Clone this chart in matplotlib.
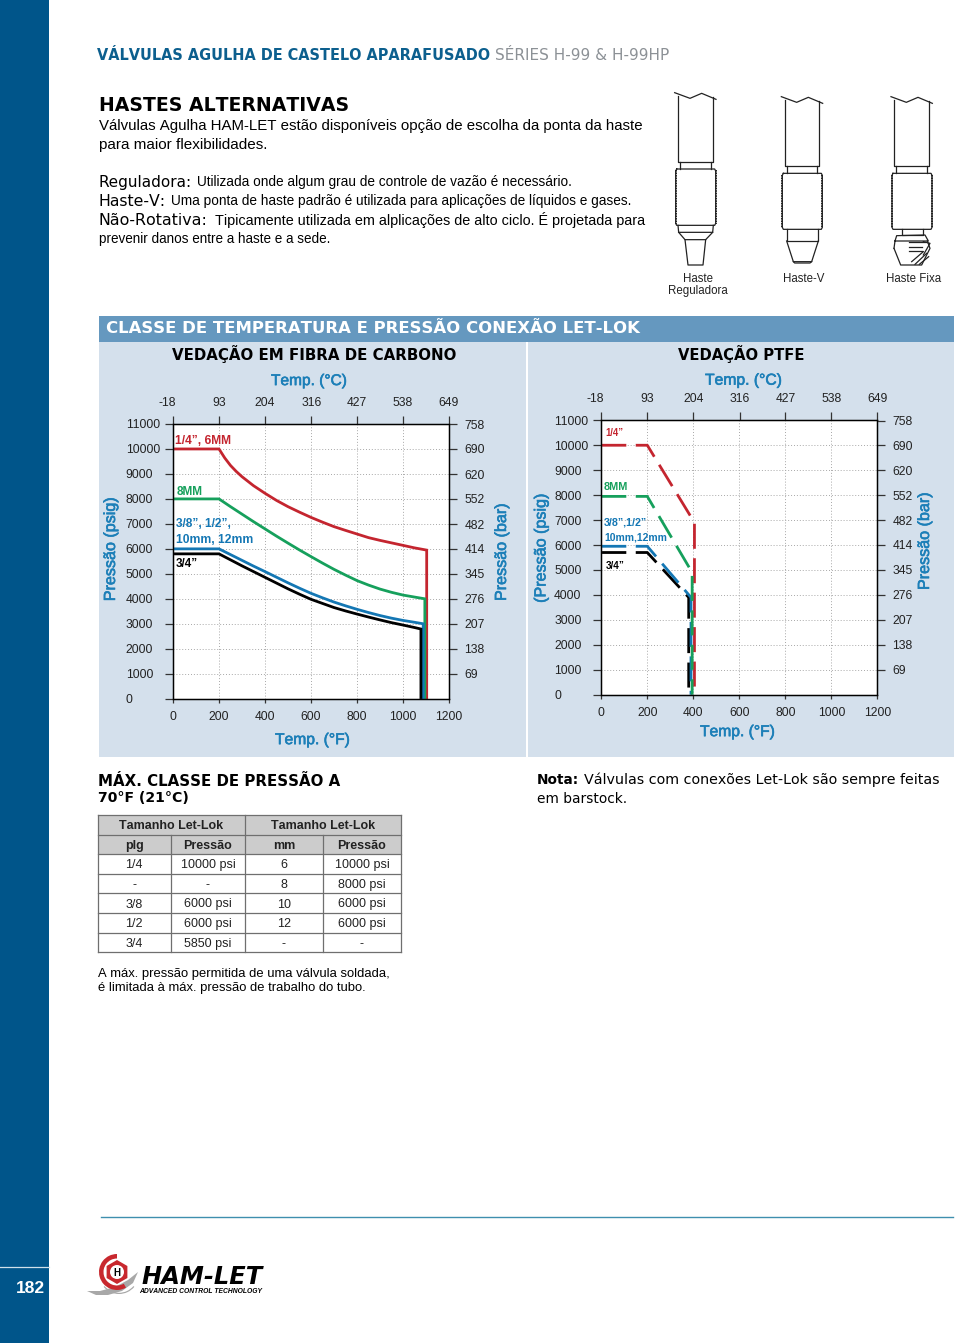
import matplotlib
matplotlib.use("Agg")
import matplotlib.pyplot as plt
import matplotlib.patheffects as pe
from matplotlib.patches import Rectangle, Circle, Polygon, Wedge, RegularPolygon
from matplotlib.transforms import ScaledTranslation

plt.rcParams["text.kerning_factor"] = 8

# ---------- data ----------
F_TICKS = [0, 200, 400, 600, 800, 1000, 1200]
C_TICKS = [-18, 93, 204, 316, 427, 538, 649]
C_LABELS = ["-18", "93", "204", "316", "427", "538", "649"]
PSI_TICKS = [0, 1000, 2000, 3000, 4000, 5000, 6000, 7000, 8000, 9000, 10000, 11000]
BAR_TICKS = [69, 138, 207, 276, 345, 414, 482, 552, 620, 690, 758]

carbon_red_f = [0, 200, 225, 250, 275, 300, 350, 400, 450, 500, 550, 600, 650, 700, 750, 800, 850, 900, 950, 1000, 1050, 1103, 1103]
carbon_red_p = [10000, 10000, 9640, 9340, 9100, 8890, 8530, 8225, 7940, 7690, 7470, 7260, 7070, 6890, 6740, 6595, 6450, 6340, 6240, 6140, 6040, 5950, 0]
carbon_green_f = [0, 200, 250, 300, 350, 400, 450, 500, 550, 600, 650, 700, 750, 800, 850, 900, 950, 1000, 1050, 1095, 1095]
carbon_green_p = [8000, 8000, 7690, 7390, 7090, 6800, 6510, 6230, 5955, 5690, 5430, 5180, 4950, 4730, 4550, 4390, 4260, 4150, 4070, 4000, 0]
carbon_blue_f = [0, 200, 250, 300, 350, 400, 450, 500, 550, 600, 650, 700, 750, 800, 850, 900, 950, 1000, 1050, 1088, 1088]
carbon_blue_p = [6000, 6000, 5770, 5540, 5310, 5090, 4865, 4640, 4425, 4220, 4040, 3870, 3720, 3580, 3450, 3330, 3225, 3135, 3060, 3000, 0]
carbon_black_f = [0, 200, 250, 300, 350, 400, 450, 500, 550, 600, 650, 700, 750, 800, 850, 900, 950, 1000, 1050, 1078, 1078]
carbon_black_p = [5800, 5800, 5560, 5320, 5090, 4860, 4630, 4400, 4185, 3980, 3815, 3650, 3515, 3390, 3270, 3155, 3045, 2950, 2850, 2790, 0]

ptfe_red_f = [0, 200, 405, 405]
ptfe_red_p = [10000, 10000, 6900, 0]
ptfe_green_f = [0, 200, 395, 395]
ptfe_green_p = [7950, 7950, 4900, 0]
ptfe_blue_f = [0, 200, 390, 390]
ptfe_blue_p = [5950, 5950, 3900, 0]
ptfe_black_f = [0, 200, 380, 380]
ptfe_black_p = [5700, 5700, 3900, 0]

table_rows = [
    ["1/4", "10000 psi", "6", "10000 psi"],
    ["-", "-", "8", "8000 psi"],
    ["3/8", "6000 psi", "10", "6000 psi"],
    ["1/2", "6000 psi", "12", "6000 psi"],
    ["3/4", "5850 psi", "-", "-"],
]
table_head = ["plg", "Pressão", "mm", "Pressão"]

# ---------- style ----------
W, H = 960, 1343
RED, GREEN, BLUE, BLACK = "#c4252f", "#16a05c", "#1477b4", "#000000"
AXBLUE = "#1c7fb8"
NAVY = "#00558a"
PANEL = "#d4e0ec"
SANS = "Liberation Sans"
WIDE = "DejaVu Sans"
MEDIUM = [pe.withStroke(linewidth=0.45, foreground=AXBLUE)]

fig = plt.figure(figsize=(W / 100, H / 100), dpi=100, facecolor="white")
page = fig.add_axes([0, 0, 1, 1], zorder=0)
page.set_xlim(0, W)
page.set_ylim(H, 0)
page.axis("off")
rend = fig.canvas.get_renderer()
PX = 100 / 72


def fit(x0, x1, y, s, color="black", weight="normal", family=SANS, size=10, **kw):
    """Text whose font size is chosen to span x0..x1, with caps centred on y."""
    t = page.text(x0, y, s, color=color, fontweight=weight, family=family,
                  fontsize=size, ha="left", va="baseline", **kw)
    w = t.get_window_extent(rend).width
    new = size * (x1 - x0) / w
    t.set_fontsize(new)
    t.set_y(y + 0.36 * new * PX)
    return t


def ctext(x, y, s, size=8.3, color="black", weight="normal", family=SANS, **kw):
    return page.text(x, y + 0.36 * size * PX, s, color=color, fontweight=weight, family=family,
                     fontsize=size, ha="center", va="baseline", **kw)


# ---------- page furniture ----------
page.add_patch(Rectangle((0, 0), 48.5, H, fc=NAVY, ec="none"))
page.plot([0, 48.5], [1267, 1267], color="#cfe0ea", lw=0.9)
ctext(30, 1287, "182", size=12.5, color="white", weight="bold")
page.plot([101, 953], [1217, 1217], color="#3f8fae", lw=1.0)

fit(97, 490, 55, "VÁLVULAS AGULHA DE CASTELO APARAFUSADO", color="#0c5f8e", weight="bold", family=WIDE)
fit(495, 667, 55, "SÉRIES H-99 & H-99HP", color="#8c9196", family=WIDE)
fit(99, 350, 104.5, "HASTES ALTERNATIVAS", weight="bold", family=WIDE)
fit(99, 645, 124.5, "Válvulas Agulha HAM-LET estão disponíveis opção de escolha da ponta da haste")
fit(99, 268, 143.5, "para maior flexibilidades.")
fit(99, 192, 181.5, "Reguladora:", family=WIDE)
fit(197, 572, 181.5, "Utilizada onde algum grau de controle de vazão é necessário.")
fit(99, 166, 200.5, "Haste-V:", family=WIDE)
fit(171, 632, 200.5, "Uma ponta de haste padrão é utilizada para aplicações de líquidos e gases.")
fit(99, 208, 219.5, "Não-Rotativa:", family=WIDE)
fit(215, 645, 219.5, "Tipicamente utilizada em alplicações de alto ciclo. É projetada para")
fit(99, 331, 238.5, "prevenir danos entre a haste e a sede.")
ctext(697.5, 277.5, "Haste", color="#222222")
ctext(697.5, 289.5, "Reguladora", color="#222222")
ctext(804, 277.5, "Haste-V", color="#222222")
ctext(914, 277.5, "Haste Fixa", color="#222222")

# ---------- panels ----------
page.add_patch(Rectangle((99, 316), 855, 26, fc="#6598bf", ec="none"))
page.add_patch(Rectangle((99, 342), 426.5, 415, fc=PANEL, ec="none"))
page.add_patch(Rectangle((528, 342), 426, 415, fc=PANEL, ec="none"))
fit(106, 641, 327, "CLASSE DE TEMPERATURA E PRESSÃO CONEXÃO LET-LOK", color="white", weight="bold", family=WIDE)
fit(172, 458, 354.5, "VEDAÇÃO EM FIBRA DE CARBONO", weight="bold", family=WIDE)
fit(678, 805, 354.5, "VEDAÇÃO PTFE", weight="bold", family=WIDE)


def chart(x0, x1, ytop, ybot, series, dashed):
    ax = fig.add_axes([x0 / W, 1 - ybot / H, (x1 - x0) / W, (ybot - ytop) / H], zorder=2)
    ax.set_xlim(0, 1200)
    ax.set_ylim(0, 11000)
    ax.set_xticks(F_TICKS)
    ax.set_yticks(PSI_TICKS)
    ax.grid(True, ls=(0, (1, 2)), color="#a8a8a8", lw=0.7)
    ax.set_axisbelow(True)
    ax.tick_params(axis="x", length=3, width=0.9, pad=6, labelsize=8.7, color="#333333", labelcolor="#222222")
    ax.tick_params(axis="y", length=6, width=0.9, pad=28, labelsize=8.7, color="#333333", labelcolor="#222222")
    for lab in ax.get_yticklabels():
        lab.set_ha("left")
    for lab in ax.get_xticklabels() + ax.get_yticklabels():
        lab.set_family(SANS)
    for f, p, c in series:
        if dashed:
            ax.plot(f, p, color=c, lw=2.0, dashes=(9, 3.4), solid_joinstyle="miter", clip_on=False)
        else:
            ax.plot(f, p, color=c, lw=2.0, solid_joinstyle="miter")
    for s in ax.spines.values():
        s.set_color("#333333")
        s.set_linewidth(1.0)

    top = ax.twiny()
    top.set_xlim((0 - 32) / 1.8, (1200 - 32) / 1.8)
    top.set_xticks(C_TICKS, C_LABELS)
    top.tick_params(axis="x", length=6, width=0.9, pad=5, labelsize=8.7, color="#333333", labelcolor="#222222")
    for lab in top.get_xticklabels():
        lab.set_family(SANS)
    first = top.get_xticklabels()[0]
    first.set_transform(first.get_transform() + ScaledTranslation(-6 / 100, 0, fig.dpi_scale_trans))

    right = ax.twinx()
    right.set_ylim(0, 11000 / 14.5)
    right.set_yticks(BAR_TICKS)
    right.tick_params(axis="y", length=6, width=0.9, pad=5, labelsize=8.7, color="#333333", labelcolor="#222222")
    for lab in right.get_yticklabels():
        lab.set_family(SANS)
    return ax


chart(173, 449, 424, 698.7,
      [(carbon_red_f, carbon_red_p, RED), (carbon_green_f, carbon_green_p, GREEN),
       (carbon_blue_f, carbon_blue_p, BLUE), (carbon_black_f, carbon_black_p, BLACK)], False)
chart(601.3, 877.3, 420.3, 694.7,
      [(ptfe_black_f, ptfe_black_p, BLACK), (ptfe_blue_f, ptfe_blue_p, BLUE),
       (ptfe_red_f, ptfe_red_p, RED), (ptfe_green_f, ptfe_green_p, GREEN)], True)

# axis titles
fit(271, 347, 379.5, "Temp. (°C)", color=AXBLUE, path_effects=MEDIUM)
fit(705, 782, 379, "Temp. (°C)", color=AXBLUE, path_effects=MEDIUM)
fit(275, 350, 738.5, "Temp. (°F)", color=AXBLUE, path_effects=MEDIUM)
fit(700, 775, 730.5, "Temp. (°F)", color=AXBLUE, path_effects=MEDIUM)


def rot(x, y, s):
    page.text(x, y, s, color=AXBLUE, fontsize=11.6, family=SANS, path_effects=MEDIUM,
              rotation=90, ha="center", va="center")


rot(110.5, 549, "Pressão (psig)")
rot(541, 548, "(Pressão (psig)")
rot(501.5, 552, "Pressão (bar)")
rot(924.5, 541, "Pressão (bar)")


# series labels (above the axes)
def lab(x0, x1, y, s, c):
    t = fit(x0, x1, y, s, color=c, weight="bold")
    t.remove()
    fig.add_artist(t)
    t.set_transform(page.transData)
    t.set_zorder(5)


lab(175, 231, 440, "1/4”, 6MM", RED)
lab(177, 203, 491, "8MM", GREEN)
lab(176, 231, 523, "3/8”, 1/2”,", BLUE)
lab(176, 253, 539, "10mm, 12mm", BLUE)
lab(176, 198, 563, "3/4”", BLACK)
lab(605, 623, 433, "1/4”", RED)
lab(604, 628, 486, "8MM", GREEN)
lab(604, 647, 522, "3/8”,1/2”", BLUE)
lab(604, 667, 537, "10mm,12mm", BLUE)
lab(606, 625, 565, "3/4”", BLACK)

# ---------- notes ----------
fit(98, 341, 781, "MÁX. CLASSE DE PRESSÃO A", weight="bold", family=WIDE)
fit(98, 189, 796.5, "70°F (21°C)", weight="bold", family=WIDE)
fit(537, 579, 779, "Nota:", weight="bold", family=WIDE)
fit(584, 941, 779, "Válvulas com conexões Let-Lok são sempre feitas", family=WIDE)
fit(537, 627, 798, "em barstock.", family=WIDE)
fit(98, 389, 972, "A máx. pressão permitida de uma válvula soldada,")
fit(98, 367, 986, "é limitada à máx. pressão de trabalho do tubo.")

# ---------- table ----------
col_x = [97.5, 171, 245, 323, 401]
row_y = [814.5, 834.5, 854, 873.5, 893, 913, 932.5, 952]
GRID = "#6f6f6f"
page.add_patch(Rectangle((col_x[0], row_y[0]), col_x[-1] - col_x[0], row_y[2] - row_y[0], fc="#cccccc", ec="none"))
for y in row_y:
    page.plot([col_x[0], col_x[-1]], [y, y], color=GRID, lw=0.9)
for i, x in enumerate(col_x):
    start = row_y[0] if i in (0, 2, 4) else row_y[1]
    page.plot([x, x], [start, row_y[-1]], color=GRID, lw=0.9)
ctext((col_x[0] + col_x[2]) / 2, (row_y[0] + row_y[1]) / 2, "Tamanho Let-Lok", size=9, weight="bold", color="#222222")
ctext((col_x[2] + col_x[4]) / 2, (row_y[0] + row_y[1]) / 2, "Tamanho Let-Lok", size=9, weight="bold", color="#222222")
for j, s in enumerate(table_head):
    ctext((col_x[j] + col_x[j + 1]) / 2, (row_y[1] + row_y[2]) / 2, s, size=9, weight="bold", color="#222222")
for i, row in enumerate(table_rows):
    for j, s in enumerate(row):
        ctext((col_x[j] + col_x[j + 1]) / 2, (row_y[i + 2] + row_y[i + 3]) / 2, s, size=9, color="#222222")


# ---------- stem illustrations (zoom-crop coordinates mapped to the page) ----------
def stem(paths, dx=0.0):
    for p in paths:
        xs = [660 + (a + dx) / 3 for a, _ in p]
        ys = [85 + b / 3 for _, b in p]
        page.plot(xs, ys, color="#222222", lw=0.9, solid_joinstyle="round")


def threads(dx, y0, y1):
    for x in (47 + dx, 167 + dx):
        page.plot([660 + x / 3] * 2, [85 + y0 / 3, 85 + y1 / 3], color="#222222", lw=1.4, ls=(0, (0.8, 0.5)))


def upper(dx, y0, shaft_bot, neck_bot, body_bot):
    return [
        [(44 + dx, 23 + y0), (90 + dx, 40 + y0), (125 + dx, 25 + y0), (168 + dx, 43 + y0)],
        [(54 + dx, 32 + y0), (54 + dx, shaft_bot), (158 + dx, shaft_bot), (158 + dx, 35 + y0)],
        [(60 + dx, shaft_bot), (60 + dx, neck_bot)],
        [(152 + dx, shaft_bot), (152 + dx, neck_bot)],
        [(50 + dx, neck_bot), (164 + dx, neck_bot), (167 + dx, neck_bot + 6), (167 + dx, body_bot - 6),
         (164 + dx, body_bot), (50 + dx, body_bot), (47 + dx, body_bot - 6), (47 + dx, neck_bot + 6), (50 + dx, neck_bot)],
    ]


stem(upper(0, 0, 230, 252, 421) + [
    [(54, 421), (56, 442), (158, 442), (160, 421)],
    [(56, 442), (75, 464), (137, 464), (158, 442)],
    [(75, 464), (84, 540), (129, 540), (137, 464)],
])
threads(0, 256, 417)
stem(upper(320, 12, 242, 265, 433) + [
    [(380, 433), (380, 468), (475, 468), (475, 433)],
    [(380, 468), (400, 530), (455, 530), (475, 468)],
    [(400, 530), (404, 534), (450, 534), (455, 530)],
])
threads(320, 269, 429)
stem(upper(649, 12, 242, 265, 433) + [
    [(725, 433), (725, 450), (790, 450), (790, 433)],
    [(705, 468), (710, 452), (795, 450), (805, 468), (705, 468)],
    [(702, 490), (722, 540), (785, 540), (810, 490), (802, 468)],
    [(702, 490), (705, 468)],
    [(748, 470), (795, 470)], [(748, 485), (785, 485)], [(748, 498), (785, 498)],
    [(755, 530), (790, 500)], [(765, 538), (800, 505)], [(778, 538), (806, 515)],
    [(790, 470), (810, 475), (790, 510)],
])
threads(649, 269, 429)

# ---------- logo ----------
page.add_patch(Polygon([(87, 1291), (100, 1291), (115, 1287), (128, 1280), (138, 1272), (133, 1283),
                        (122, 1291), (108, 1295), (96, 1295)], fc="#a8a8a8", ec="none"))
page.add_patch(Wedge((119, 1274), 20, 40, 140, width=1.2, fc="#a8a8a8", ec="none"))
page.add_patch(Wedge((117, 1272), 18, 60, 270, width=4.5, fc="#c8282e", ec="none"))
page.add_patch(RegularPolygon((117, 1272), 6, radius=12, fc="#c8282e", ec="none"))
page.add_patch(Circle((117, 1272), 7, fc="white", ec="none"))
ctext(117, 1272, "H", size=7, weight="bold")
fit(141, 262, 1275.5, "HAM-LET", weight="bold", family=WIDE, style="italic")
fit(139, 261, 1290.5, "ADVANCED CONTROL TECHNOLOGY", weight="bold", style="italic")

fig.savefig("out.png", dpi=100, facecolor="white")
